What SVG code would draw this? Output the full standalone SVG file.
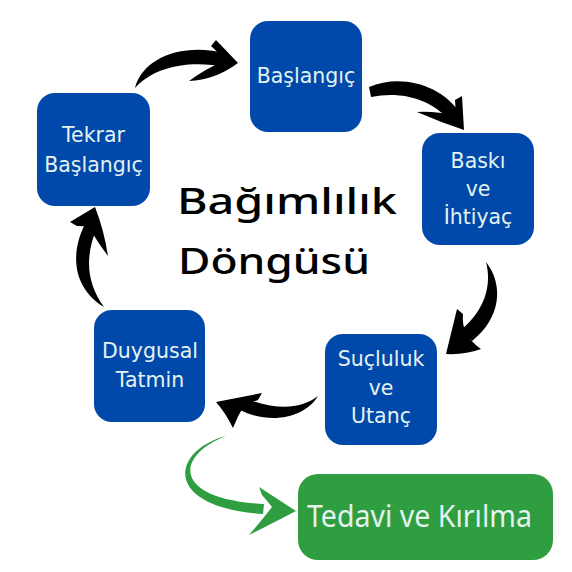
<svg xmlns="http://www.w3.org/2000/svg" width="572" height="572" viewBox="0 0 572 572">
<style>
.box{fill:#0049AA}
.gbox{fill:#2E9E40}
.lbl{font-family:"DejaVu Sans","Noto Sans",sans-serif;font-size:20.5px;fill:#E4F2F0;text-anchor:middle}
.big{font-family:"Noto Sans","Open Sans",sans-serif;font-size:30px;fill:#E4F2F0}
.title{font-family:"Noto Sans","Open Sans",sans-serif;font-size:37px;font-weight:500;fill:#000}
.blk{fill:#000}
.grn{fill:#2E9E40}
</style>
<rect width="572" height="572" fill="#fff"/>
<g id="connectors">
<g id="a1" class="blk">
<path d="M135,88 C143,57 185,42 227,54 L226,67 C190,60 155,66 135,88 Z"/>
<path d="M238,63 L216,40 L211,46 Q220,54 224,61 Q205,69 189,81 Q215,80 238,63 Z"/>
</g>
<g id="a2" class="blk">
<path d="M369,87 C402,73 442,86 459,112 L449,120 C430,98 400,91 371,97 Z"/>
<path d="M464,130 L462,96 L455,100 Q456,110 454,116 Q437,111 417,112 Q440,122 464,130 Z"/>
</g>
<g id="a3" class="blk">
<path d="M486,262 C504,285 501,318 472,341 L461,330 C485,310 492,285 486,262 Z"/>
<path d="M446,354 L457,309 L463,314 Q462,325 466,333 Q472,343 481,349 Q465,355 446,354 Z"/>
</g>
<g id="a4" class="blk">
<path d="M318,396 C305,418 270,425 240,410 L244,398 C275,410 300,410 318,396 Z"/>
<path d="M216,402 L262,393 L258,400 Q250,403 245,404 Q238,415 233,428 Q225,412 216,402 Z"/>
</g>
<g id="a5" class="blk">
<path d="M104,307 C76,290 68,258 85,224 L96,230 C84,260 88,285 104,307 Z"/>
<path d="M95,207 L70,222 L77,226 Q84,226 89,227 Q96,240 108,256 Q104,230 95,207 Z"/>
</g>
<g id="a6" class="grn">
<path d="M226,436 C176,455 170,499 264,504 L263,514 C160,507 172,450 226,436 Z"/>
<path d="M296,511 L259,487 L262,495 Q268,502 272,507 Q262,520 249,535 Q275,522 296,511 Z"/>
</g>
</g>
<g id="title">
<text class="title" x="177" y="214" textLength="220" lengthAdjust="spacingAndGlyphs">Bağımlılık</text>
<text class="title" x="178" y="274" textLength="192" lengthAdjust="spacingAndGlyphs">Döngüsü</text>
</g>
<g id="n-baslangic">
<rect class="box" x="250" y="21" width="112" height="111" rx="18"/>
<text class="lbl" x="306" y="83">Başlangıç</text>
</g>
<g id="n-baski">
<rect class="box" x="422" y="133" width="112" height="112" rx="18"/>
<text class="lbl" x="478" y="168">Baskı</text>
<text class="lbl" x="478" y="196">ve</text>
<text class="lbl" x="478" y="224">İhtiyaç</text>
</g>
<g id="n-sucluluk">
<rect class="box" x="325" y="334" width="112" height="111" rx="18"/>
<text class="lbl" x="381" y="366">Suçluluk</text>
<text class="lbl" x="381" y="395">ve</text>
<text class="lbl" x="381" y="423">Utanç</text>
</g>
<g id="n-duygusal">
<rect class="box" x="94" y="310" width="111" height="112" rx="18"/>
<text class="lbl" x="150" y="358">Duygusal</text>
<text class="lbl" x="150" y="387">Tatmin</text>
</g>
<g id="n-tekrar">
<rect class="box" x="37" y="93" width="113" height="113" rx="18"/>
<text class="lbl" x="93.5" y="142">Tekrar</text>
<text class="lbl" x="93.5" y="172">Başlangıç</text>
</g>
<g id="n-tedavi">
<rect class="gbox" x="298" y="474" width="255" height="86" rx="20"/>
<text class="big" x="307" y="527" textLength="225" lengthAdjust="spacingAndGlyphs">Tedavi ve Kırılma</text>
</g>
</svg>
